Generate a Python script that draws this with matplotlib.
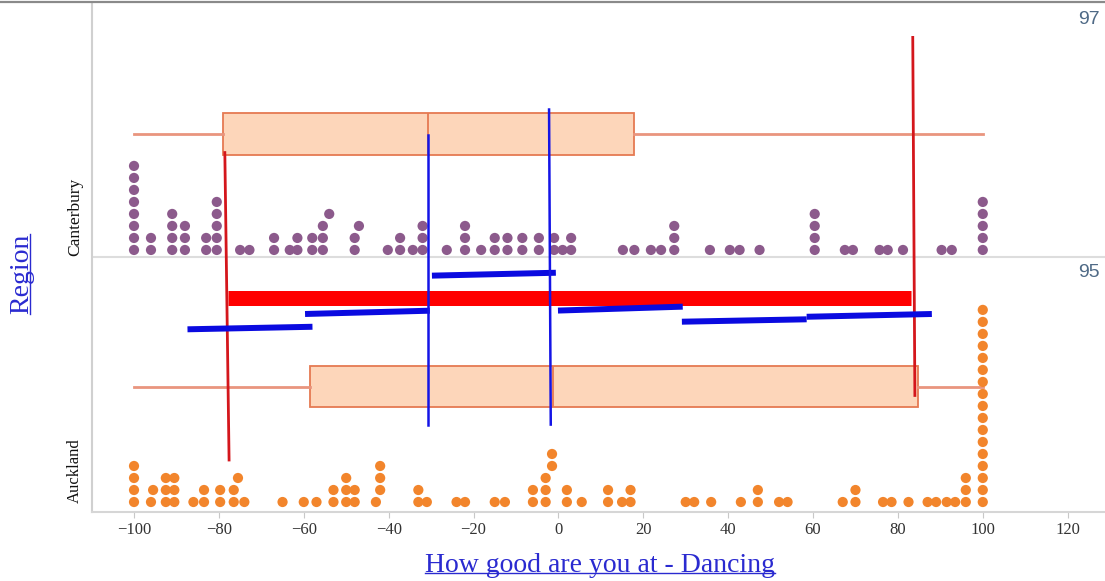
import numpy as np
import matplotlib.pyplot as plt
from matplotlib.lines import Line2D
import matplotlib.transforms as mtransforms

# dot plot values, one entry per person
canterbury = ([-100]*8 + [-96]*2 + [-91]*4 + [-88]*3 + [-83]*2 + [-80.5]*5 + [-75, -72.8]
              + [-67]*2 + [-63.3] + [-61.5]*2 + [-58]*2 + [-55.5]*3 + [-54] + [-48]*2 + [-47]
              + [-40.2] + [-37.3]*2 + [-34.3] + [-32]*3 + [-26.3] + [-22]*3 + [-18.2]
              + [-15]*2 + [-12]*2 + [-8.5]*2 + [-4.6]*2 + [-1]*2 + [1] + [3]*2
              + [15.2, 17.9, 21.8, 24.2] + [27.3]*3 + [35.7, 40.4, 42.7, 47.4] + [60.4]*4
              + [67.5, 69.4, 75.7, 77.6, 81.2, 90.3, 92.7] + [100]*5)
auckland = ([-100]*4 + [-96, -95.5] + [-92.5]*3 + [-90.5]*3 + [-86] + [-83.5]*2 + [-79.7]*2
            + [-76.5]*2 + [-75.5, -74] + [-65, -60, -57] + [-53]*2 + [-50]*3 + [-48]*2
            + [-43] + [-42]*3 + [-33]*2 + [-31] + [-24, -22, -15, -12.6] + [-6]*2
            + [-3]*3 + [-1.5]*2 + [2]*2 + [5.5] + [11.7]*2 + [15] + [17]*2
            + [30, 32, 36, 43] + [47]*2 + [52, 54, 67] + [70]*2
            + [76.5, 78.5, 82.5, 87, 89, 91.5, 93.5] + [96]*3 + [100]*17)

# box plot summaries (min, q1, median, q3, max)
cant_box = [-100, -79, -30.7, 17.8, 100]
auck_box = [-100, -58.5, -1.3, 84.7, 100]
box_pos = [96.107, 94.11]

# hand drawn overlay lines
red_v_x = [[-78.6, -77.6], [83.5, 84.0]]
red_v_y = [[95.96, 93.53], [96.87, 94.04]]
red_bar_x = [-77.9, 83.0]
red_bar_y = 94.814
blue_v_x = [[-30.7, -30.7], [-2.2, -1.8]]
blue_v_y = [[96.10, 93.81], [96.30, 93.81]]
blue_seg_x = [[-87.4, -57.95], [-59.7, -30.3], [-29.8, -0.6], [-0.1, 29.3], [29.1, 58.5], [58.5, 88.0]]
blue_seg_y = [[94.563, 94.583], [94.684, 94.710], [94.987, 95.010], [94.711, 94.742],
              [94.623, 94.642], [94.662, 94.684]]

xticks = [-100, -80, -60, -40, -20, 0, 20, 40, 60, 80, 100, 120]

serif = ['Liberation Serif', 'DejaVu Serif']
link_blue = '#2a2ad0'


def stack(vals, d=1.75):
    placed = []
    for v in sorted(vals):
        r = 0
        while any(abs(v - pv) < d and pr == r for pv, pr in placed):
            r += 1
        placed.append((v, r))
    xs = np.array([p[0] for p in placed])
    rows = np.array([p[1] for p in placed])
    return xs, rows


fig = plt.figure(figsize=(11.05, 5.81), dpi=100)
ax = fig.add_axes([92/1105, 1-512/581, 1-92/1105, 508/581])
ax.set_xlim(-109.9, 128.8)
ax.set_ylim(93.119, 97.134)

step = 0.0949
xs, rows = stack(canterbury)
ax.scatter(xs, 95.19 + rows*step, s=54, color='#8c5a8c', edgecolors='none', zorder=3)
xs, rows = stack(auckland)
ax.scatter(xs, 93.198 + rows*step, s=54, color='#f2852c', edgecolors='none', zorder=3)

ax.axhline(95.134, color='#dddddd', lw=1.5, zorder=1)

stats = []
for b in [cant_box, auck_box]:
    stats.append(dict(whislo=b[0], q1=b[1], med=b[2], q3=b[3], whishi=b[4]))
ax.bxp(stats, positions=box_pos, widths=0.33, orientation='horizontal', patch_artist=True,
       showcaps=False, showfliers=False, manage_ticks=False,
       boxprops=dict(facecolor='#fdd6ba', edgecolor='#e57a52', lw=1.3),
       whiskerprops=dict(color='#e9957e', lw=2),
       medianprops=dict(color='#e57a52', lw=1.3))

ax.plot(red_bar_x, [red_bar_y]*2, color='#ff0000', lw=10.8, solid_capstyle='butt', zorder=4)
for xx, yy in zip(red_v_x, red_v_y):
    ax.plot(xx, yy, color='#d4161c', lw=2, zorder=5)
for xx, yy in zip(blue_seg_x, blue_seg_y):
    ax.plot(xx, yy, color='#0a0ae0', lw=4.3, solid_capstyle='butt', zorder=5)
for xx, yy in zip(blue_v_x, blue_v_y):
    ax.plot(xx, yy, color='#1414e6', lw=1.8, zorder=6)

# right side value labels
trans = mtransforms.blended_transform_factory(ax.transAxes, ax.transData)
for v in [97, 95]:
    ax.text(0.995, v + 0.01, str(v), transform=trans, ha='right', va='center',
            fontsize=14, color='#4f6a86', family=['Liberation Sans', 'DejaVu Sans'])

for s in ['top', 'right']:
    ax.spines[s].set_visible(False)
ax.spines['left'].set_color('#d0d0d0')
ax.spines['left'].set_linewidth(1.5)
ax.spines['bottom'].set_color('#d6d6d6')
ax.spines['bottom'].set_linewidth(1.5)
ax.set_yticks([])
ax.set_xticks(xticks)
ax.set_xticklabels([str(t).replace('-', '\u2212') for t in xticks], family=serif,
                   fontsize=12, color='#333333')
ax.tick_params(axis='x', length=4, color='#c8c8c8', pad=3)

fig.text(75/1105, 1-256/581, 'Canterbury', rotation=90, ha='center', va='bottom',
         fontsize=12.5, family=serif, color='#111111')
fig.text(75/1105, 1-503/581, 'Auckland', rotation=90, ha='center', va='bottom',
         fontsize=12, family=serif, color='#111111')

t_reg = fig.text(22/1105, 1-274/581, 'Region', rotation=90, ha='center', va='center',
                 fontsize=20, family=serif, color=link_blue)
t_x = fig.text(600/1105, 1-565/581, 'How good are you at - Dancing', ha='center', va='center',
               fontsize=20, family=serif, color=link_blue)

# top border line
fig.add_artist(Line2D([0, 1], [1-2/581, 1-2/581], color='#8a8a8a', lw=1.6))

# underline the link style labels
fig.canvas.draw()
inv = fig.transFigure.inverted()
bb = t_x.get_window_extent().transformed(inv)
uy = bb.y0 + 5/581
fig.add_artist(Line2D([bb.x0, bb.x1], [uy, uy], color=link_blue, lw=1))
bb = t_reg.get_window_extent().transformed(inv)
ux = bb.x1 - 5/1105
fig.add_artist(Line2D([ux, ux], [bb.y0, bb.y1], color=link_blue, lw=1))

fig.savefig('out.png', dpi=100)
